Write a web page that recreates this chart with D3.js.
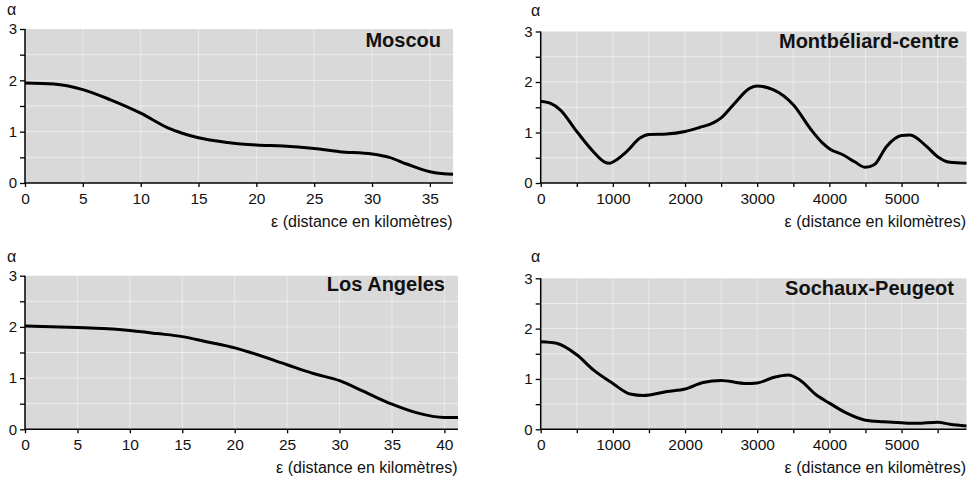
<!DOCTYPE html>
<html><head><meta charset="utf-8">
<script src="https://cdn.jsdelivr.net/npm/d3@7"></script>
<style>
body{margin:0;background:#fff;}
svg text{font-family:"Liberation Sans",Arial,Helvetica,sans-serif;fill:#111;}
</style></head>
<body><svg id="c" width="968" height="480"></svg>
<script>
// ---- data ----
const titles = ["Moscou", "Montbéliard-centre", "Los Angeles", "Sochaux-Peugeot"];
const yTickLabels = [0, 1, 2, 3];
const xAxisTitle = "ε (distance en kilomètres)";

const moscouX = [0, 2.5, 5, 7.4, 10, 12.3, 13.6, 15, 17.5, 20, 22.3, 25, 27.2, 30, 31.5, 33, 35, 36.2, 37];
const moscouY = [1.95, 1.93, 1.82, 1.62, 1.36, 1.08, 0.97, 0.88, 0.79, 0.74, 0.72, 0.67, 0.61, 0.565, 0.50, 0.37, 0.22, 0.18, 0.17];

const montX = [0, 130, 270, 500, 730, 880, 950, 1030, 1190, 1375, 1500, 1745, 2000, 2200, 2390, 2500, 2670, 2900, 3000, 3220, 3500, 3750, 3900, 4000, 4200, 4350, 4500, 4620, 4790, 5000, 5115, 5350, 5500, 5670, 5900];
const montY = [1.62, 1.58, 1.45, 1.02, 0.62, 0.42, 0.39, 0.44, 0.62, 0.89, 0.96, 0.97, 1.02, 1.10, 1.19, 1.29, 1.55, 1.88, 1.92, 1.85, 1.55, 1.05, 0.80, 0.68, 0.55, 0.42, 0.31, 0.36, 0.72, 0.94, 0.95, 0.72, 0.52, 0.41, 0.39];

const laX = [0, 5, 7.5, 10, 12.6, 15, 17.3, 20, 21.5, 25, 27.5, 30, 32.3, 35, 37.4, 40, 41.3];
const laY = [2.02, 1.99, 1.97, 1.93, 1.87, 1.81, 1.71, 1.59, 1.50, 1.26, 1.09, 0.95, 0.74, 0.49, 0.32, 0.23, 0.23];

const sochX = [0, 220, 500, 730, 1000, 1240, 1420, 1750, 2000, 2250, 2500, 2850, 3000, 3220, 3430, 3590, 3820, 4000, 4240, 4500, 4750, 5000, 5210, 5500, 5670, 5900];
const sochY = [1.74, 1.71, 1.48, 1.18, 0.91, 0.70, 0.67, 0.75, 0.80, 0.93, 0.97, 0.91, 0.92, 1.03, 1.08, 0.98, 0.68, 0.52, 0.32, 0.18, 0.15, 0.13, 0.12, 0.14, 0.10, 0.065];

const kmTicks = [0, 5, 10, 15, 20, 25, 30, 35, 40];
const mTicks = [0, 500, 1000, 1500, 2000, 2500, 3000, 3500, 4000, 4500, 5000, 5500];

// ---- layout ----
const panels = [
  {title: titles[0], xs: moscouX, ys: moscouY, xmax: 37, ticks: kmTicks, labelEvery: 5, x0: 25, x1: 453, yTop: 29, yBot: 183, alpha: [7, 15], titleRight: 441, titleBase: 47},
  {title: titles[1], xs: montX, ys: montY, xmax: 5900, ticks: mTicks, labelEvery: 1000, x0: 540.7, x1: 966.5, yTop: 31.5, yBot: 183, alpha: [531, 16], titleRight: 959, titleBase: 48},
  {title: titles[2], xs: laX, ys: laY, xmax: 41.3, ticks: kmTicks, labelEvery: 5, x0: 25, x1: 458, yTop: 275.7, yBot: 429.3, alpha: [7, 262], titleRight: 445, titleBase: 291},
  {title: titles[3], xs: sochX, ys: sochY, xmax: 5900, ticks: mTicks, labelEvery: 1000, x0: 540.7, x1: 966.5, yTop: 278.3, yBot: 429.3, alpha: [531, 262], titleRight: 954, titleBase: 295}
];

const svg = d3.select("#c");

panels.forEach(p => {
  const x = d3.scaleLinear().domain([0, p.xmax]).range([p.x0, p.x1]);
  const y = d3.scaleLinear().domain([0, 3]).range([p.yBot, p.yTop]);
  const g = svg.append("g");

  // background
  g.append("rect").attr("x", p.x0).attr("y", p.yTop)
    .attr("width", p.x1 - p.x0).attr("height", p.yBot - p.yTop)
    .attr("fill", "#d9d9d9");

  // faint white grid
  const yGrid = d3.range(0.5, 3, 0.5);
  g.selectAll(".hg").data(yGrid).join("line")
    .attr("x1", p.x0).attr("x2", p.x1)
    .attr("y1", d => y(d)).attr("y2", d => y(d))
    .attr("stroke", "#fff").attr("stroke-opacity", 0.55).attr("stroke-width", 1);
  const xt = p.ticks.filter(t => t > 0 && t < p.xmax);
  g.selectAll(".vg").data(xt).join("line")
    .attr("y1", p.yTop).attr("y2", p.yBot)
    .attr("x1", d => x(d)).attr("x2", d => x(d))
    .attr("stroke", "#fff").attr("stroke-opacity", 0.45).attr("stroke-width", 1);

  // y axis
  const yAxis = d3.axisLeft(y).tickValues(d3.range(0, 3.01, 0.5))
    .tickSize(5).tickPadding(3)
    .tickFormat(d => yTickLabels.includes(d) ? d3.format("d")(d) : "");
  const ya = g.append("g").attr("transform", `translate(${p.x0},0)`).call(yAxis);
  ya.select(".domain").attr("stroke", "#000").attr("stroke-width", 1.5).attr("d", `M0,${p.yBot}V${p.yTop}`);
  ya.selectAll(".tick line").attr("stroke", "#000").attr("stroke-width", 1.3);
  ya.selectAll(".tick text").attr("font-size", 15).attr("fill", "#111")
    .attr("font-family", "Liberation Sans, Arial, sans-serif");

  // x axis
  const xAxis = d3.axisBottom(x).tickValues(p.ticks.filter(t => t <= p.xmax))
    .tickSize(4).tickPadding(6)
    .tickFormat(d => d % p.labelEvery === 0 ? d3.format("d")(d) : "");
  const xa = g.append("g").attr("transform", `translate(0,${p.yBot})`).call(xAxis);
  xa.select(".domain").attr("stroke", "#000").attr("stroke-width", 1.5).attr("d", `M${p.x0},0H${p.x1}`);
  xa.selectAll(".tick line").attr("stroke", "#000").attr("stroke-width", 1.3);
  xa.selectAll(".tick text").attr("font-size", 15.5).attr("fill", "#111")
    .attr("font-family", "Liberation Sans, Arial, sans-serif");

  // curve
  const pts = p.xs.map((v, i) => [v, p.ys[i]]);
  g.append("path").datum(pts)
    .attr("fill", "none").attr("stroke", "#000").attr("stroke-width", 3)
    .attr("stroke-linejoin", "round").attr("stroke-linecap", "butt")
    .attr("d", d3.line().x(d => x(d[0])).y(d => y(d[1])).curve(d3.curveMonotoneX));

  // alpha label
  g.append("text").attr("x", p.alpha[0]).attr("y", p.alpha[1])
    .attr("font-size", 16).attr("font-family", "Liberation Serif, Times New Roman, serif").text("α");

  // title
  g.append("text").attr("x", p.titleRight).attr("y", p.titleBase)
    .attr("text-anchor", "end").attr("font-size", 20).attr("font-weight", "bold").text(p.title);

  // x axis title
  g.append("text").attr("x", p.x1 - 0.5).attr("y", p.yBot + 44)
    .attr("text-anchor", "end").attr("font-size", 16).text(xAxisTitle);
});
</script></body></html>
